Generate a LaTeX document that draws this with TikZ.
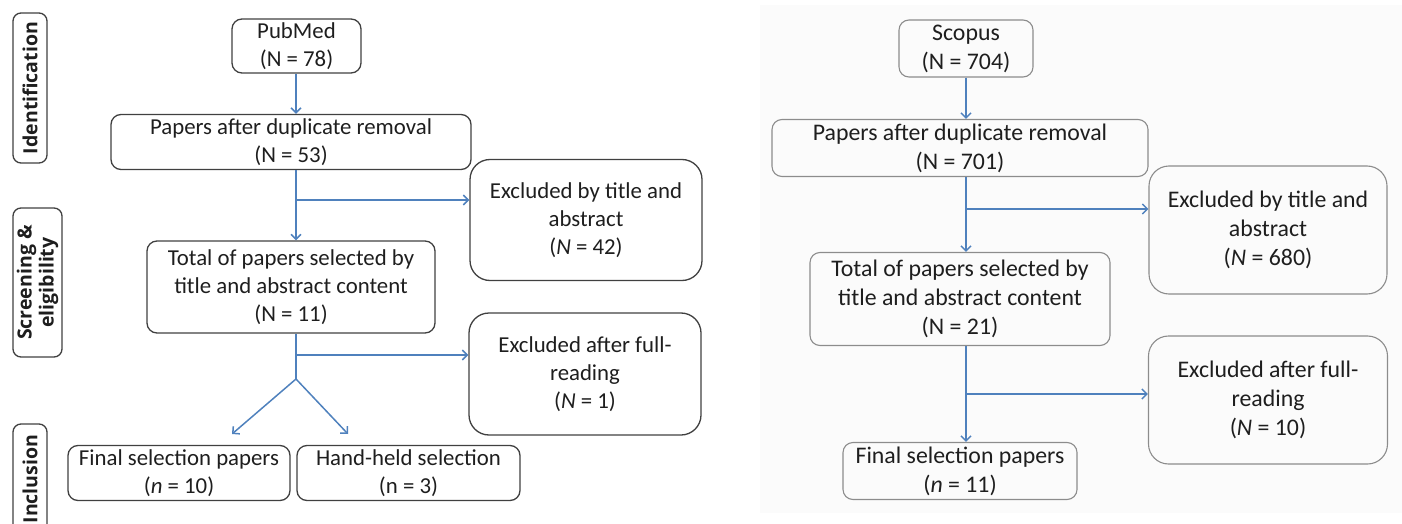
\documentclass[tikz,border=0pt]{standalone}
\usepackage{fontspec}
\setmainfont{Carlito}
\newfontfamily\sidefont{Open Sans}
\usepackage{xcolor}
\definecolor{flowblue}{HTML}{4F81BD}
\definecolor{edgedark}{HTML}{404040}
\definecolor{edgelight}{HTML}{8C8C8C}
\definecolor{inkdark}{HTML}{1E1E1E}
\definecolor{panelgray}{HTML}{FBFBFB}
\usetikzlibrary{arrows.meta}

\begin{document}
\begin{tikzpicture}[x=1pt, y=-1pt, >={Straight Barb[length=5pt,width=10pt]},
		flow/.style={->, flowblue, line width=1.5pt},
		stage/.style={draw=edgedark, line width=1.3pt, rounded corners=8pt, inner sep=0pt, rotate=90, align=center, text=inkdark, font=\sidefont\bfseries\fontsize{19.5}{22}\selectfont},
		boxL/.style={draw=edgedark, line width=1.3pt, rounded corners=10pt, inner sep=0pt, align=center, text=inkdark, font=\fontsize{22.8}{28}\selectfont},
		boxR/.style={boxL, draw=edgelight, line width=1.1pt, font=\fontsize{23.8}{29}\selectfont},
		wide/.style={rounded corners=20pt}]
		\useasboundingbox (0,0) rectangle (1402,524);
		\fill[panelgray] (760,5) rectangle (1402,513);

		\node[stage, minimum width=150pt, minimum height=34pt] (idL) at (30,88) {Identification};
		\node[stage, minimum width=149pt, minimum height=49pt] (scrL) at (37.5,282.5) {Screening \&\\eligibility};
		\node[stage, minimum width=110pt, minimum height=34pt] (incL) at (30,479) {Inclusion};

		\node[boxL, minimum width=129pt, minimum height=54pt] (pubL) at (296.5,46) {PubMed\\(N = 78)};
		\node[boxL, minimum width=360pt, minimum height=55pt] (dupL) at (291,142) {Papers after duplicate removal\\(N = 53)};
		\node[boxL, minimum width=288pt, minimum height=92pt] (totL) at (291,287) {Total of papers selected by\\title and abstract content\\(N = 11)};
		\node[boxL, wide, minimum width=232pt, minimum height=121pt] (exTL) at (586,220) {Excluded by title and\\abstract\\(\textit{N} = 42)};
		\node[boxL, wide, minimum width=232pt, minimum height=122pt] (exFL) at (585,374) {Excluded after full-\\reading\\(\textit{N} = 1)};
		\node[boxL, minimum width=222pt, minimum height=55pt] (finL) at (179,473) {Final selection papers\\(\textit{n} = 10)};
		\node[boxL, minimum width=223pt, minimum height=55pt] (handL) at (408.5,473) {Hand-held selection\\(n = 3)};

		\coordinate (spineL) at (296,0);
		\coordinate (brTL) at (296,200);
		\coordinate (brFL) at (296,355);
		\coordinate (forkL) at (296,379);
		\coordinate (tipA) at (232,434);
		\coordinate (tipB) at (348,434);
		\draw[flow] (spineL |- pubL.south) -- (spineL |- dupL.north);
		\draw[flow] (spineL |- dupL.south) -- (spineL |- totL.north);
		\draw[flow] (brTL) -- (brTL -| exTL.west);
		\draw[flowblue, line width=1.5pt] (spineL |- totL.south) -- (forkL);
		\draw[flow] (brFL) -- (brFL -| exFL.west);
		\draw[flow] (forkL) -- (tipA);
		\draw[flow] (forkL) -- (tipB);

		\node[boxR, minimum width=134pt, minimum height=57pt] (pubR) at (966,48.5) {Scopus\\(N = 704)};
		\node[boxR, minimum width=376pt, minimum height=57pt] (dupR) at (960,148) {Papers after duplicate removal\\(N = 701)};
		\node[boxR, minimum width=300pt, minimum height=93pt] (totR) at (960,299) {Total of papers selected by\\title and abstract content\\(N = 21)};
		\node[boxR, wide, minimum width=238pt, minimum height=128pt] (exTR) at (1268,230) {Excluded by title and\\abstract\\(\textit{N} = 680)};
		\node[boxR, wide, minimum width=239pt, minimum height=128pt] (exFR) at (1268,400) {Excluded after full-\\reading\\(\textit{N} = 10)};
		\node[boxR, minimum width=234pt, minimum height=57pt] (finR) at (960,471) {Final selection papers\\(\textit{n} = 11)};

		\coordinate (spineR) at (966,0);
		\coordinate (brTR) at (966,209);
		\coordinate (brFR) at (966,394);
		\draw[flow] (spineR |- pubR.south) -- (spineR |- dupR.north);
		\draw[flow] (spineR |- dupR.south) -- (spineR |- totR.north);
		\draw[flow] (brTR) -- (brTR -| exTR.west);
		\draw[flow] (spineR |- totR.south) -- (spineR |- finR.north);
		\draw[flow] (brFR) -- (brFR -| exFR.west);
	\end{tikzpicture}
\end{document}
